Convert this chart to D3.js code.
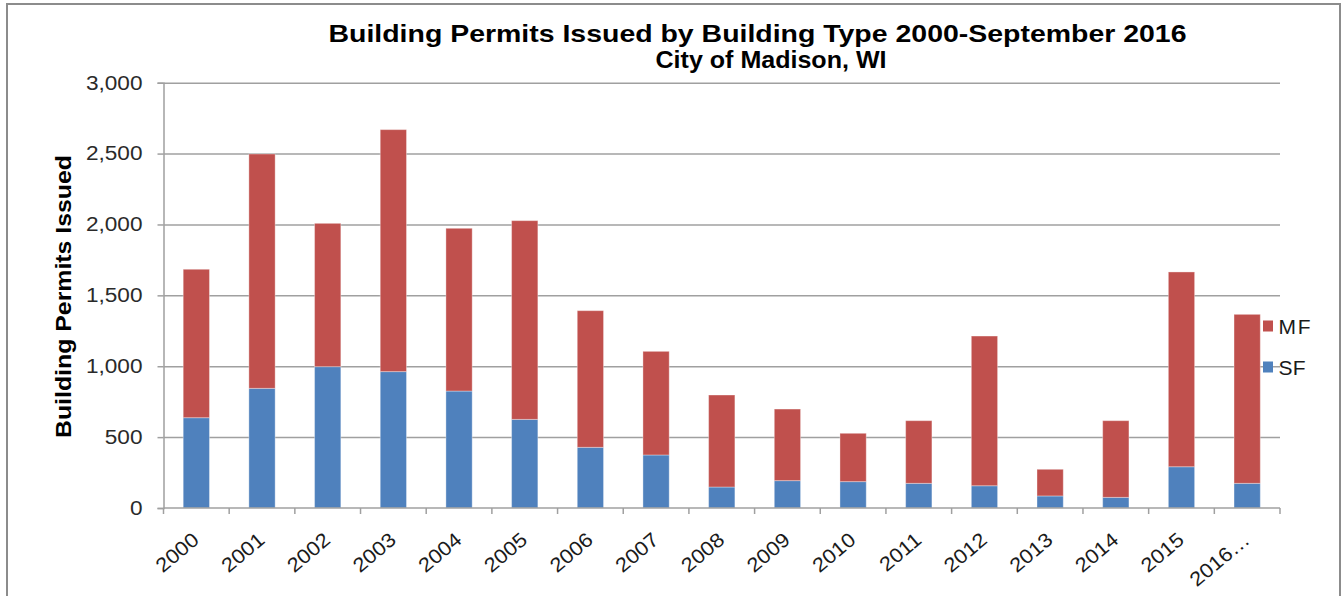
<!DOCTYPE html>
<html>
<head>
<meta charset="utf-8">
<script src="https://cdn.jsdelivr.net/npm/d3@7"></script>
<style>
  html, body { margin: 0; padding: 0; background: #fff; }
  svg { display: block; font-family: "Liberation Sans", Arial, sans-serif; }
</style>
</head>
<body>
<svg id="chart" width="1343" height="596"></svg>
<script>
// Building permits by type, City of Madison (2016 through September)
const years = ["2000","2001","2002","2003","2004","2005","2006","2007","2008",
               "2009","2010","2011","2012","2013","2014","2015","2016…"];
const sfPermits = [637, 844, 997, 962, 825, 625, 428, 374, 148, 193, 186, 174, 157, 85, 75, 291, 174];
const mfPermits = [1047, 1653, 1011, 1707, 1148, 1402, 964, 731, 649, 505, 341, 442, 1056, 188, 541, 1374, 1192];
const yTicks = [0, 500, 1000, 1500, 2000, 2500, 3000];
const seriesNames = ["SF", "MF"];
const seriesColors = { SF: "#4F81BD", MF: "#C0504D" };

const svg = d3.select("#chart");

// widen glyphs horizontally by a factor (text is drawn slightly broad)
function widen(sel, k) {
  sel.each(function () {
    const w = this.getComputedTextLength();
    d3.select(this).attr("textLength", w * k).attr("lengthAdjust", "spacingAndGlyphs");
  });
}

// outer chart frame
svg.append("rect")
  .attr("x", 7).attr("y", 4).attr("width", 1333).attr("height", 620)
  .attr("fill", "none").attr("stroke", "#8c8c8c").attr("stroke-width", 2);

const plot = { left: 163.5, right: 1280, top: 82.7, bottom: 508 };

const x = d3.scaleBand()
  .domain(years)
  .range([plot.left, plot.right])
  .paddingInner(0.6)
  .paddingOuter(0.3);

const y = d3.scaleLinear()
  .domain([0, 3000])
  .range([plot.bottom, plot.top]);

// horizontal gridlines
svg.append("g")
  .attr("transform", `translate(${plot.left},0)`)
  .call(d3.axisLeft(y).tickValues(yTicks.slice(1)).tickSize(-(plot.right - plot.left)).tickFormat(""))
  .call(g => g.select(".domain").remove())
  .call(g => g.selectAll("line").attr("stroke", "#a0a0a0").attr("stroke-width", 1.5));

// stacked bars
const rows = years.map((yr, i) => ({ year: yr, SF: sfPermits[i], MF: mfPermits[i] }));
const stacked = d3.stack().keys(seriesNames)(rows);

svg.append("g").selectAll("g")
  .data(stacked)
  .join("g")
  .attr("fill", d => seriesColors[d.key])
  .selectAll("rect")
  .data(d => d)
  .join("rect")
  .attr("x", d => x(d.data.year))
  .attr("width", x.bandwidth())
  .attr("y", d => y(d[1]))
  .attr("height", d => y(d[0]) - y(d[1]))
  .attr("stroke", "rgba(255,255,255,0.35)")
  .attr("stroke-width", 1);

// y axis with labels
const yAxis = svg.append("g")
  .attr("transform", `translate(${plot.left},0)`)
  .call(d3.axisLeft(y).tickValues(yTicks).tickSize(6).tickPadding(15).tickFormat(d3.format(",")));
yAxis.select(".domain").attr("stroke", "#a0a0a0").attr("stroke-width", 1.5);
yAxis.selectAll(".tick line").attr("stroke", "#a0a0a0").attr("stroke-width", 1.5);
yAxis.selectAll(".tick text")
  .attr("font-size", 20)
  .attr("fill", "#2a2a2a")
  .attr("font-family", "Liberation Sans, Arial, sans-serif")
  .call(widen, 1.13);

// x axis line and boundary ticks
const xg = svg.append("g");
xg.append("line")
  .attr("x1", plot.left).attr("x2", plot.right)
  .attr("y1", y(0)).attr("y2", y(0))
  .attr("stroke", "#a0a0a0").attr("stroke-width", 1.5);
const boundaries = d3.range(years.length + 1).map(i => plot.left + i * x.step());
xg.selectAll("line.tick")
  .data(boundaries)
  .join("line")
  .attr("class", "tick")
  .attr("x1", d => d).attr("x2", d => d)
  .attr("y1", y(0)).attr("y2", y(0) + 6)
  .attr("stroke", "#a0a0a0").attr("stroke-width", 1.5);

// rotated category labels
xg.selectAll("text")
  .data(years)
  .join("text")
  .attr("transform", d => `translate(${x(d) + x.bandwidth() / 2 + 4},${y(0) + 34}) rotate(-40)`)
  .attr("text-anchor", "end")
  .attr("font-size", 20)
  .attr("fill", "#1a1a1a")
  .text(d => d)
  .call(widen, 1.1);

// y axis title
svg.append("text")
  .attr("transform", `translate(71,296.5) rotate(-90)`)
  .attr("text-anchor", "middle")
  .attr("font-size", 22)
  .attr("font-weight", "bold")
  .attr("textLength", 283)
  .attr("lengthAdjust", "spacingAndGlyphs")
  .attr("fill", "#000")
  .text("Building Permits Issued");

// chart title
svg.append("text")
  .attr("x", 757.5).attr("y", 42)
  .attr("text-anchor", "middle")
  .attr("font-size", 24)
  .attr("font-weight", "bold")
  .attr("textLength", 858)
  .attr("lengthAdjust", "spacingAndGlyphs")
  .text("Building Permits Issued by Building Type 2000-September 2016");
svg.append("text")
  .attr("x", 771).attr("y", 68)
  .attr("text-anchor", "middle")
  .attr("font-size", 24)
  .attr("font-weight", "bold")
  .attr("textLength", 231)
  .attr("lengthAdjust", "spacingAndGlyphs")
  .text("City of Madison, WI");

// legend (MF above SF)
const legendItems = ["MF", "SF"];
const legend = svg.append("g").selectAll("g")
  .data(legendItems)
  .join("g")
  .attr("transform", (d, i) => `translate(1263,${320.5 + i * 41})`);
legend.append("rect")
  .attr("width", 10).attr("height", 11)
  .attr("fill", d => seriesColors[d]);
legend.append("text")
  .attr("x", 15.5).attr("y", 13)
  .attr("font-size", 21)
  .attr("fill", "#1a1a1a")
  .attr("textLength", d => d === "MF" ? 32 : 27)
  .attr("lengthAdjust", "spacing")
  .text(d => d);
</script>
</body>
</html>
